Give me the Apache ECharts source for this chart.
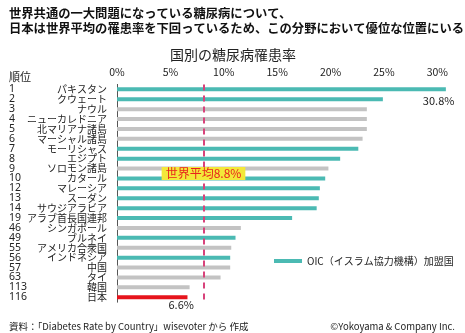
<!DOCTYPE html>
<html><head><meta charset="utf-8">
<script src="https://cdn.jsdelivr.net/npm/echarts@6/dist/echarts.min.js"></script>
<style>html,body{margin:0;padding:0;background:#fff}#c{width:465px;height:333px}</style>
</head><body><div id="c"></div>
<script>
const countries = ['パキスタン','クウェート','ナウル','ニューカレドニア','北マリアナ諸島','マーシャル諸島','モーリシャス','エジプト','ソロモン諸島','カタール','マレーシア','スーダン','サウジアラビア','アラブ首長国連邦','シンガポール','ブルネイ','アメリカ合衆国','インドネシア','中国','タイ','韓国','日本'];
const ranks = ['1','2','3','4','5','6','7','8','9','10','12','13','14','19','46','49','55','56','57','63','113','116'];
const rates = [30.8,24.9,23.4,23.4,23.4,23.0,22.6,20.9,19.8,19.5,19.0,18.9,18.7,16.4,11.6,11.1,10.7,10.6,10.6,9.7,6.8,6.6];
const oic = [1,1,0,0,0,0,1,1,0,1,1,1,1,1,0,1,0,1,0,0,0,0];
const xTicks = [0,5,10,15,20,25,30];
const worldAvgLabel = '世界平均8.8%';
const worldAvgLinePos = 8.1;
const JP = '"Noto Sans CJK JP","Noto Sans",sans-serif';

const teal = '#4bbab3', gray = '#c3c3c3', red = '#e6141c';
const oicData = rates.map((v,i)=> (oic[i] && countries[i] !== '日本') ? v : '-');
const otherData = rates.map((v,i)=> {
  if (oic[i]) return '-';
  if (countries[i] === '日本') return {value:v, itemStyle:{color:red},
    label:{show:true, position:'right', offset:[-24,8], formatter:'{c}%', fontSize:11, color:'#222', fontFamily:JP}};
  return v;
});
oicData[0] = {value: rates[0], label:{show:true, position:'right', offset:[-28,11], formatter:'{c}%', fontSize:11, color:'#222', fontFamily:JP}};

const chart = echarts.init(document.getElementById('c'));
chart.setOption({
  animation:false,
  textStyle:{fontFamily:JP},
  title:[
    {text:'世界共通の一大問題になっている糖尿病について、\n日本は世界平均の罹患率を下回っているため、この分野において優位な位置にいる',
     left:4, top:1, textStyle:{fontSize:12.3, fontWeight:'bold', color:'#111', lineHeight:15, fontFamily:JP}},
    {text:'国別の糖尿病罹患率', left:228, textAlign:'center', top:43, textStyle:{fontSize:14, fontWeight:'normal', color:'#222', fontFamily:JP}},
    {text:'順位', left:4, top:66, textStyle:{fontSize:11, fontWeight:'normal', color:'#222', fontFamily:JP}},
    {text:'資料：「Diabetes Rate by Country」wisevoter から 作成', left:4, top:317, textStyle:{fontSize:9.5, fontWeight:'normal', color:'#222', fontFamily:JP}},
    {text:'©Yokoyama & Company Inc.', right:5, top:317, textStyle:{fontSize:9.5, fontWeight:'normal', color:'#222', fontFamily:JP}}
  ],
  legend:{data:['OIC（イスラム協力機構）加盟国'], left:269, top:251, itemWidth:28, itemHeight:4, icon:'rect', itemGap:5,
    textStyle:{fontSize:10, color:'#222', fontFamily:JP}},
  grid:{left:117, right:17, top:84.4, height:217.8, containLabel:false},
  xAxis:{type:'value', position:'top', min:0, max:31, interval:5,
    axisLine:{show:false}, axisTick:{show:false}, splitLine:{show:false},
    axisLabel:{formatter:v=> xTicks.includes(v) ? v+'%' : '', showMaxLabel:false, fontSize:10.5, color:'#222', margin:7, fontFamily:JP}},
  yAxis:[
    {type:'category', data:countries, inverse:true,
     axisLine:{show:true, lineStyle:{color:'#555', width:1}}, axisTick:{show:false},
     axisLabel:{fontSize:10, color:'#222', margin:10, fontFamily:JP, interval:0}},
    {type:'category', data:ranks, inverse:true, position:'left', offset:100,
     axisLine:{show:false}, axisTick:{show:false},
     axisLabel:{fontSize:10.5, color:'#222', margin:8, align:'left', fontFamily:'"Noto Sans",sans-serif', interval:0}}
  ],
  series:[
    {name:'OIC（イスラム協力機構）加盟国', type:'bar', data:oicData, barWidth:4, barGap:'-100%',
     itemStyle:{color:teal}, yAxisIndex:0,
     markLine:{silent:true, symbol:'none', label:{show:false},
       lineStyle:{color:'#d8437b', type:[6,5], width:2}, data:[{xAxis:worldAvgLinePos}]}},
    {name:'その他', type:'bar', data:otherData, barWidth:4, barGap:'-100%', itemStyle:{color:gray}, yAxisIndex:0}
  ]
});
const px = chart.convertToPixel({xAxisIndex:0}, worldAvgLinePos);
const y1 = chart.convertToPixel({yAxisIndex:0}, 'ソロモン諸島');
const y2 = chart.convertToPixel({yAxisIndex:0}, 'カタール');
chart.setOption({graphic:[{type:'text', x:px, y:(y1+y2)/2, z:100,
  style:{text:worldAvgLabel, fill:'#e8231c', font:'12px '+JP, align:'center', verticalAlign:'middle',
    backgroundColor:'#f3e83a', padding:[1,4,0,4]}}]});
</script></body></html>
